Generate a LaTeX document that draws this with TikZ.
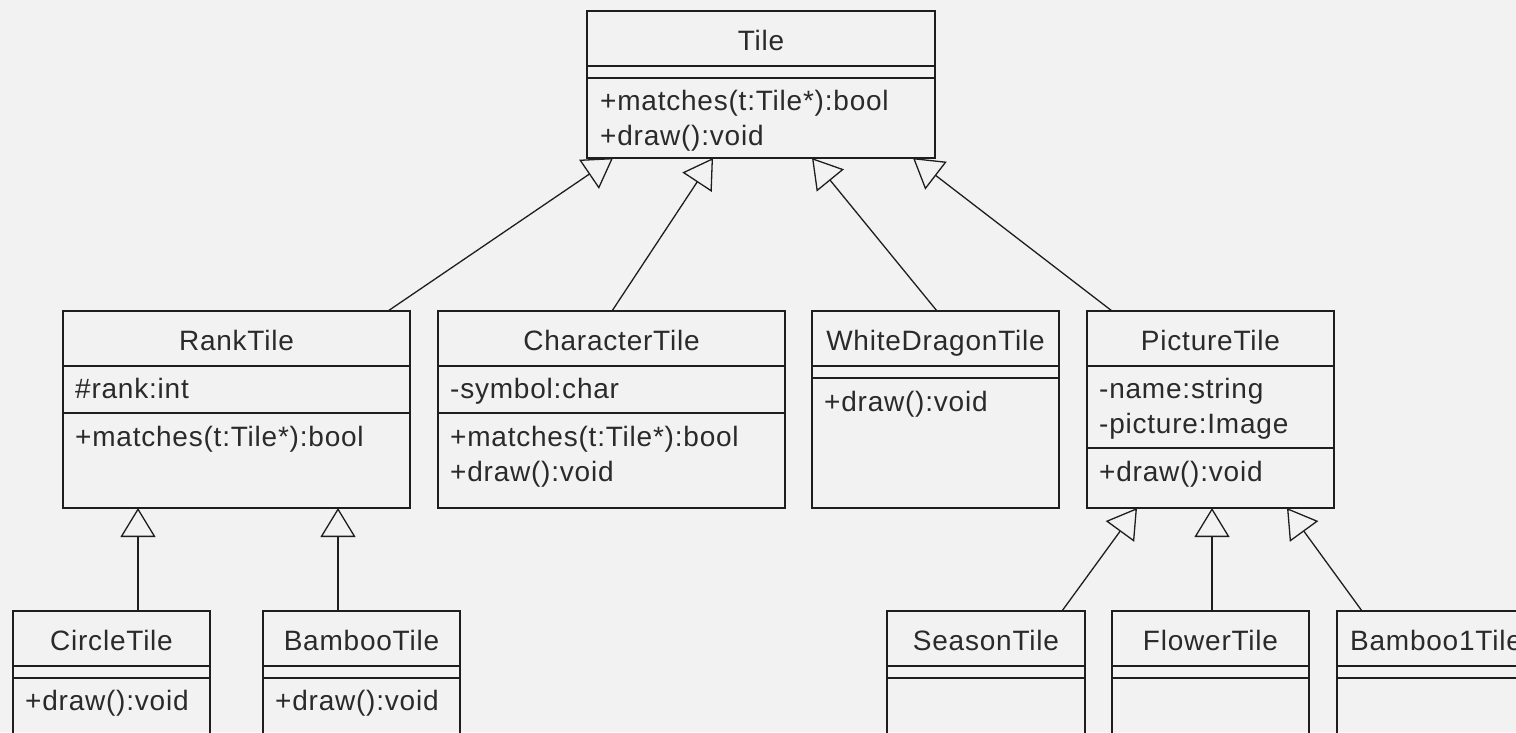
\documentclass[tikz,border=0pt]{standalone}
\usepackage{fontspec}
\setmainfont{Liberation Sans}[LetterSpace=2.8]
\usetikzlibrary{arrows.meta,calc}
\definecolor{bg}{HTML}{F2F2F2}
\definecolor{ink}{HTML}{1E1E1E}
\definecolor{txt}{HTML}{2A2A2A}
\begin{document}
\begin{tikzpicture}[x=1pt,y=-1pt,
  cls/.style={draw=ink, line width=1.3pt, inner sep=0pt, outer sep=0pt, anchor=north west},
  sep/.style={draw=ink, line width=1.3pt},
  title/.style={anchor=base, inner sep=0pt, font=\fontsize{28}{34}\selectfont, text=txt},
  member/.style={anchor=base west, inner sep=0pt, font=\fontsize{28}{34}\selectfont, text=txt},
  inh/.style={draw=ink, line width=1.3pt,
    -{Triangle[open, length=29pt, width=35pt, line width=1.3pt]}}]
\fill[bg] (0,0) rectangle (1516,732);
\useasboundingbox (0,0) rectangle (1516,732);
\clip (0,0) rectangle (1516,732);

% ---- Tile (abstract base) ----
\node[cls, minimum width=348pt, minimum height=147pt] (tile) at (587,11) {};
\draw[sep] ([yshift=-55pt]tile.north west) -- ([yshift=-55pt]tile.north east);
\draw[sep] ([yshift=-67pt]tile.north west) -- ([yshift=-67pt]tile.north east);
\node[title] (tileT) at ([yshift=-39pt]tile.north) {Tile};
\node[member] (tileO1) at ([xshift=13pt,yshift=-99pt]tile.north west) {+matches(t:Tile*):bool};
\node[member] (tileO2) at ([xshift=13pt,yshift=-134pt]tile.north west) {+draw():void};

% ---- RankTile ----
\node[cls, minimum width=347pt, minimum height=197pt] (rank) at (63,311) {};
\draw[sep] ([yshift=-55pt]rank.north west) -- ([yshift=-55pt]rank.north east);
\draw[sep] ([yshift=-102pt]rank.north west) -- ([yshift=-102pt]rank.north east);
\node[title] (rankT) at ([yshift=-39pt]rank.north) {RankTile};
\node[member] (rankA1) at ([xshift=12pt,yshift=-87pt]rank.north west) {\#rank:int};
\node[member] (rankO1) at ([xshift=12pt,yshift=-135pt]rank.north west) {+matches(t:Tile*):bool};

% ---- CharacterTile ----
\node[cls, minimum width=347pt, minimum height=197pt] (char) at (438,311) {};
\draw[sep] ([yshift=-55pt]char.north west) -- ([yshift=-55pt]char.north east);
\draw[sep] ([yshift=-102pt]char.north west) -- ([yshift=-102pt]char.north east);
\node[title] (charT) at ([yshift=-39pt]char.north) {CharacterTile};
\node[member] (charA1) at ([xshift=12pt,yshift=-87pt]char.north west) {-symbol:char};
\node[member] (charO1) at ([xshift=12pt,yshift=-135pt]char.north west) {+matches(t:Tile*):bool};
\node[member] (charO2) at ([xshift=12pt,yshift=-170pt]char.north west) {+draw():void};

% ---- WhiteDragonTile ----
\node[cls, minimum width=247pt, minimum height=197pt] (white) at (812,311) {};
\draw[sep] ([yshift=-55pt]white.north west) -- ([yshift=-55pt]white.north east);
\draw[sep] ([yshift=-67pt]white.north west) -- ([yshift=-67pt]white.north east);
\node[title] (whiteT) at ([yshift=-39pt]white.north) {WhiteDragonTile};
\node[member] (whiteO1) at ([xshift=12pt,yshift=-100pt]white.north west) {+draw():void};

% ---- PictureTile ----
\node[cls, minimum width=247pt, minimum height=197pt] (pict) at (1087,311) {};
\draw[sep] ([yshift=-55pt]pict.north west) -- ([yshift=-55pt]pict.north east);
\draw[sep] ([yshift=-137pt]pict.north west) -- ([yshift=-137pt]pict.north east);
\node[title] (pictT) at ([yshift=-39pt]pict.north) {PictureTile};
\node[member] (pictA1) at ([xshift=12pt,yshift=-87pt]pict.north west) {-name:string};
\node[member] (pictA2) at ([xshift=12pt,yshift=-122pt]pict.north west) {-picture:Image};
\node[member] (pictO1) at ([xshift=12pt,yshift=-170pt]pict.north west) {+draw():void};

% ---- CircleTile / BambooTile ----
\node[cls, minimum width=197pt, minimum height=200pt] (circle) at (13,611) {};
\draw[sep] ([yshift=-55pt]circle.north west) -- ([yshift=-55pt]circle.north east);
\draw[sep] ([yshift=-67pt]circle.north west) -- ([yshift=-67pt]circle.north east);
\node[title] (circleT) at ([yshift=-39pt]circle.north) {CircleTile};
\node[member] (circleO1) at ([xshift=12pt,yshift=-99pt]circle.north west) {+draw():void};

\node[cls, minimum width=197pt, minimum height=200pt] (bamboo) at (263,611) {};
\draw[sep] ([yshift=-55pt]bamboo.north west) -- ([yshift=-55pt]bamboo.north east);
\draw[sep] ([yshift=-67pt]bamboo.north west) -- ([yshift=-67pt]bamboo.north east);
\node[title] (bambooT) at ([yshift=-39pt]bamboo.north) {BambooTile};
\node[member] (bambooO1) at ([xshift=12pt,yshift=-99pt]bamboo.north west) {+draw():void};

% ---- SeasonTile / FlowerTile / Bamboo1Tile ----
\node[cls, minimum width=198pt, minimum height=200pt] (season) at (887,611) {};
\draw[sep] ([yshift=-55pt]season.north west) -- ([yshift=-55pt]season.north east);
\draw[sep] ([yshift=-67pt]season.north west) -- ([yshift=-67pt]season.north east);
\node[title] (seasonT) at ([yshift=-39pt]season.north) {SeasonTile};

\node[cls, minimum width=197pt, minimum height=200pt] (flower) at (1112,611) {};
\draw[sep] ([yshift=-55pt]flower.north west) -- ([yshift=-55pt]flower.north east);
\draw[sep] ([yshift=-67pt]flower.north west) -- ([yshift=-67pt]flower.north east);
\node[title] (flowerT) at ([yshift=-39pt]flower.north) {FlowerTile};

\node[cls, minimum width=198pt, minimum height=200pt] (bambooone) at (1337,611) {};
\draw[sep] ([yshift=-55pt]bambooone.north west) -- ([yshift=-55pt]bambooone.north east);
\draw[sep] ([yshift=-67pt]bambooone.north west) -- ([yshift=-67pt]bambooone.north east);
\node[title] (bambooneT) at ([yshift=-39pt]bambooone.north) {Bamboo1Tile};

% ---- generalisation arrows ----
\draw[inh] ([xshift=-22pt]rank.north east) -- ([xshift=26pt]tile.south west);
\draw[inh] ([xshift=174pt]char.north west) -- ([xshift=126pt]tile.south west);
\draw[inh] ([xshift=125pt]white.north west) -- ([xshift=225pt]tile.south west);
\draw[inh] ([xshift=25pt]pict.north west) -- ([xshift=326pt]tile.south west);

\draw[inh] ([xshift=125pt]circle.north west) -- ([xshift=75pt]rank.south west);
\draw[inh] ([xshift=75pt]bamboo.north west) -- ([xshift=275pt]rank.south west);

\draw[inh] ([xshift=175pt]season.north west) -- ([xshift=50pt]pict.south west);
\draw[inh] ([xshift=100pt]flower.north west) -- ([xshift=125pt]pict.south west);
\draw[inh] ([xshift=25pt]bambooone.north west) -- ([xshift=200pt]pict.south west);
\end{tikzpicture}
\end{document}
